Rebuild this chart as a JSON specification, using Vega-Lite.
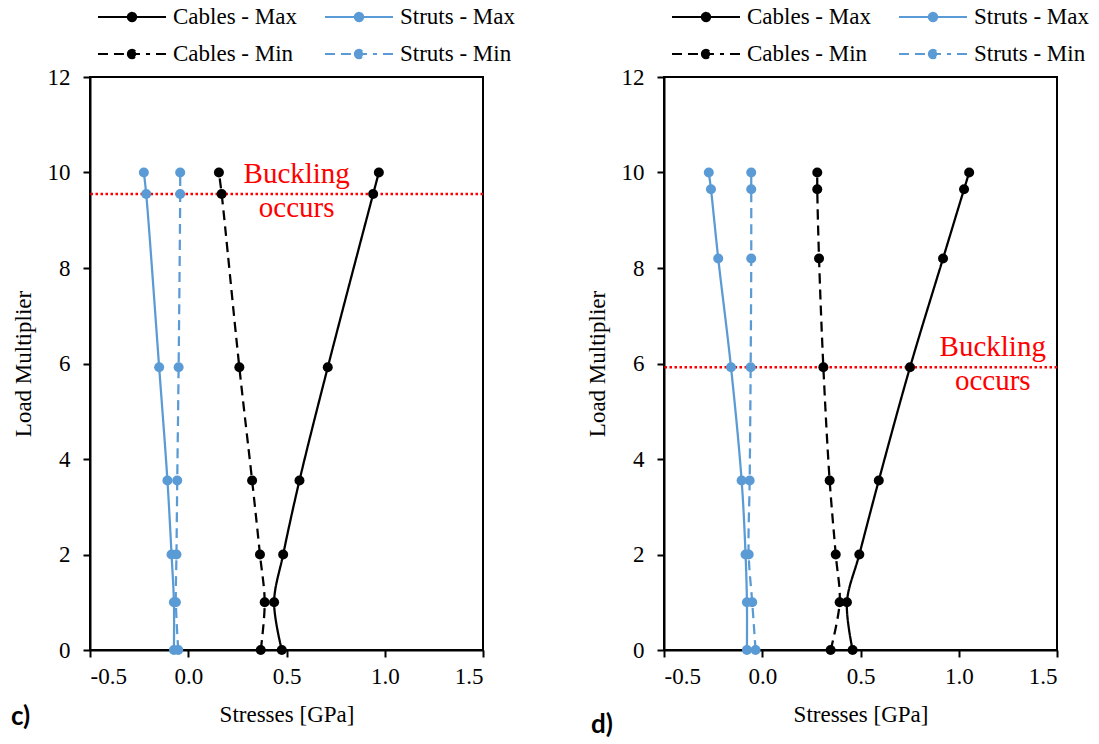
{
  "$schema": "https://vega.github.io/schema/vega-lite/v6.json",
  "padding": {"left": 10, "top": 4, "right": 0, "bottom": 0},
  "background": "white",
  "spacing": 69,
  "datasets": {
    "c": [
      {"series": "Cables - Max", "stress": 0.476, "load": 0},
      {"series": "Cables - Max", "stress": 0.437, "load": 1},
      {"series": "Cables - Max", "stress": 0.483, "load": 2},
      {"series": "Cables - Max", "stress": 0.566, "load": 3.55},
      {"series": "Cables - Max", "stress": 0.710, "load": 5.92},
      {"series": "Cables - Max", "stress": 0.941, "load": 9.55},
      {"series": "Cables - Max", "stress": 0.970, "load": 10},
      {"series": "Cables - Min", "stress": 0.369, "load": 0},
      {"series": "Cables - Min", "stress": 0.389, "load": 1},
      {"series": "Cables - Min", "stress": 0.365, "load": 2},
      {"series": "Cables - Min", "stress": 0.325, "load": 3.55},
      {"series": "Cables - Min", "stress": 0.260, "load": 5.92},
      {"series": "Cables - Min", "stress": 0.170, "load": 9.55},
      {"series": "Cables - Min", "stress": 0.156, "load": 10},
      {"series": "Struts - Max", "stress": -0.073, "load": 0},
      {"series": "Struts - Max", "stress": -0.073, "load": 1},
      {"series": "Struts - Max", "stress": -0.085, "load": 2},
      {"series": "Struts - Max", "stress": -0.106, "load": 3.55},
      {"series": "Struts - Max", "stress": -0.148, "load": 5.92},
      {"series": "Struts - Max", "stress": -0.214, "load": 9.55},
      {"series": "Struts - Max", "stress": -0.226, "load": 10},
      {"series": "Struts - Min", "stress": -0.051, "load": 0},
      {"series": "Struts - Min", "stress": -0.063, "load": 1},
      {"series": "Struts - Min", "stress": -0.060, "load": 2},
      {"series": "Struts - Min", "stress": -0.056, "load": 3.55},
      {"series": "Struts - Min", "stress": -0.049, "load": 5.92},
      {"series": "Struts - Min", "stress": -0.041, "load": 9.55},
      {"series": "Struts - Min", "stress": -0.041, "load": 10}
    ],
    "d": [
      {"series": "Cables - Max", "stress": 0.460, "load": 0},
      {"series": "Cables - Max", "stress": 0.431, "load": 1},
      {"series": "Cables - Max", "stress": 0.494, "load": 2},
      {"series": "Cables - Max", "stress": 0.593, "load": 3.55},
      {"series": "Cables - Max", "stress": 0.752, "load": 5.92},
      {"series": "Cables - Max", "stress": 0.920, "load": 8.2},
      {"series": "Cables - Max", "stress": 1.027, "load": 9.65},
      {"series": "Cables - Max", "stress": 1.053, "load": 10},
      {"series": "Cables - Min", "stress": 0.348, "load": 0},
      {"series": "Cables - Min", "stress": 0.394, "load": 1},
      {"series": "Cables - Min", "stress": 0.374, "load": 2},
      {"series": "Cables - Min", "stress": 0.343, "load": 3.55},
      {"series": "Cables - Min", "stress": 0.311, "load": 5.92},
      {"series": "Cables - Min", "stress": 0.289, "load": 8.2},
      {"series": "Cables - Min", "stress": 0.280, "load": 9.65},
      {"series": "Cables - Min", "stress": 0.280, "load": 10},
      {"series": "Struts - Max", "stress": -0.078, "load": 0},
      {"series": "Struts - Max", "stress": -0.078, "load": 1},
      {"series": "Struts - Max", "stress": -0.085, "load": 2},
      {"series": "Struts - Max", "stress": -0.105, "load": 3.55},
      {"series": "Struts - Max", "stress": -0.159, "load": 5.92},
      {"series": "Struts - Max", "stress": -0.224, "load": 8.2},
      {"series": "Struts - Max", "stress": -0.261, "load": 9.65},
      {"series": "Struts - Max", "stress": -0.272, "load": 10},
      {"series": "Struts - Min", "stress": -0.034, "load": 0},
      {"series": "Struts - Min", "stress": -0.051, "load": 1},
      {"series": "Struts - Min", "stress": -0.069, "load": 2},
      {"series": "Struts - Min", "stress": -0.064, "load": 3.55},
      {"series": "Struts - Min", "stress": -0.059, "load": 5.92},
      {"series": "Struts - Min", "stress": -0.056, "load": 8.2},
      {"series": "Struts - Min", "stress": -0.056, "load": 9.65},
      {"series": "Struts - Min", "stress": -0.056, "load": 10}
    ],
    "note_c": [{"buckling": 9.55, "tx": 0.552, "ty": 9.77, "label": "Buckling\noccurs"}],
    "note_d": [{"buckling": 5.92, "tx": 1.173, "ty": 6.16, "label": "Buckling\noccurs"}]
  },
  "resolve": {"scale": {"color": "independent", "strokeDash": "independent"}, "legend": {"color": "independent"}},
  "hconcat": [
    {
      "width": 393,
      "height": 573,
      "title": {"text": "c)", "orient": "bottom", "anchor": "start", "frame": "group", "font": "Lato", "fontWeight": "bold", "fontSize": 26, "color": "black", "dx": -79, "dy": -22, "offset": 0},
      "layer": [
        {
          "data": {"name": "note_c"},
          "mark": {"type": "rule", "color": "#FF0000", "strokeWidth": 2.5, "strokeDash": [2.5, 2.5]},
          "encoding": {"y": {"field": "buckling", "type": "quantitative", "scale": {"domain": [0, 12], "nice": false}}}
        },
        {
          "data": {"name": "note_c"},
          "mark": {"type": "text", "color": "#FF0000", "font": "Liberation Serif", "fontSize": 29, "align": "center", "baseline": "alphabetic", "lineBreak": "\n", "lineHeight": 34},
          "encoding": {
            "x": {"field": "tx", "type": "quantitative"},
            "y": {"field": "ty", "type": "quantitative"},
            "text": {"field": "label"}
          }
        },
        {
          "data": {"name": "c"},
          "mark": {"type": "line", "strokeWidth": 2.25, "interpolate": "catmull-rom"},
          "encoding": {
            "x": {"field": "stress", "type": "quantitative"},
            "y": {"field": "load", "type": "quantitative"},
            "order": {"field": "load"},
            "color": {
              "field": "series", "type": "nominal",
              "scale": {"domain": ["Cables - Max", "Struts - Max", "Cables - Min", "Struts - Min"], "range": ["#000000", "#5B9BD5", "#000000", "#5B9BD5"]},
              "legend": {
                "title": null, "orient": "none", "direction": "horizontal", "legendX": 8, "legendY": -72, "columns": 2,
                "columnPadding": 24, "rowPadding": 13, "symbolSize": 484, "symbolStrokeWidth": 2,
                "symbolOffset": 22, "labelOffset": 29, "labelFont": "Liberation Serif", "labelFontSize": 23,
                "labelColor": "black", "labelLimit": 0,
                "encode": {"symbols": {"update": {
                  "shape": {"signal": "indexof(datum.value, 'Min') >= 0 ? 'M-3.09,0L-2.18,0M-1.64,0L1.64,0M2.18,0L3.09,0M-0.38,0A0.38,0.38,0,1,1,0.38,0A0.38,0.38,0,1,1,-0.38,0Z' : 'M-3.09,0L3.09,0M-0.38,0A0.38,0.38,0,1,1,0.38,0A0.38,0.38,0,1,1,-0.38,0Z'"},
                  "fill": {"signal": "indexof(datum.value, 'Struts') >= 0 ? '#5B9BD5' : '#000000'"},
                  "stroke": {"signal": "indexof(datum.value, 'Struts') >= 0 ? '#5B9BD5' : '#000000'"},
                  "strokeDash": {"value": [1, 0]},
                  "opacity": {"value": 1},
                  "fillOpacity": {"value": 1},
                  "strokeOpacity": {"value": 1}
                }}}
              }
            },
            "strokeDash": {
              "field": "series", "type": "nominal",
              "scale": {"domain": ["Cables - Max", "Struts - Max", "Cables - Min", "Struts - Min"], "range": [[1, 0], [1, 0], [10, 6], [10, 6]]},
              "legend": null
            }
          }
        },
        {
          "data": {"name": "c"},
          "mark": {"type": "point", "filled": true, "size": 100, "opacity": 1},
          "encoding": {
            "x": {"field": "stress", "type": "quantitative", "scale": {"domain": [-0.5, 1.5], "nice": false},
              "axis": {"values": [-0.5, 0, 0.5, 1, 1.5], "labelExpr": "datum.value < 0 ? '-' + format(-datum.value, '.1f') : format(datum.value, '.1f')", "title": "Stresses [GPa]", "labelPadding": 8, "titlePadding": 15}},
            "y": {"field": "load", "type": "quantitative", "scale": {"domain": [0, 12], "nice": false},
              "axis": {"values": [0, 2, 4, 6, 8, 10, 12], "title": "Load Multiplier", "labelPadding": 13, "titlePadding": 12}},
            "color": {"field": "series", "type": "nominal", "legend": null,
              "scale": {"domain": ["Cables - Max", "Struts - Max", "Cables - Min", "Struts - Min"], "range": ["#000000", "#5B9BD5", "#000000", "#5B9BD5"]}}
          }
        }
      ]
    },
    {
      "width": 393,
      "height": 573,
      "title": {"text": "d)", "orient": "bottom", "anchor": "start", "frame": "group", "font": "Lato", "fontWeight": "bold", "fontSize": 26, "color": "black", "dx": -73, "dy": -14, "offset": 0},
      "layer": [
        {
          "data": {"name": "note_d"},
          "mark": {"type": "rule", "color": "#FF0000", "strokeWidth": 2.5, "strokeDash": [2.5, 2.5]},
          "encoding": {"y": {"field": "buckling", "type": "quantitative", "scale": {"domain": [0, 12], "nice": false}}}
        },
        {
          "data": {"name": "note_d"},
          "mark": {"type": "text", "color": "#FF0000", "font": "Liberation Serif", "fontSize": 29, "align": "center", "baseline": "alphabetic", "lineBreak": "\n", "lineHeight": 34},
          "encoding": {
            "x": {"field": "tx", "type": "quantitative"},
            "y": {"field": "ty", "type": "quantitative"},
            "text": {"field": "label"}
          }
        },
        {
          "data": {"name": "d"},
          "mark": {"type": "line", "strokeWidth": 2.25, "interpolate": "catmull-rom"},
          "encoding": {
            "x": {"field": "stress", "type": "quantitative"},
            "y": {"field": "load", "type": "quantitative"},
            "order": {"field": "load"},
            "color": {
              "field": "series", "type": "nominal",
              "scale": {"domain": ["Cables - Max", "Struts - Max", "Cables - Min", "Struts - Min"], "range": ["#000000", "#5B9BD5", "#000000", "#5B9BD5"]},
              "legend": {
                "title": null, "orient": "none", "direction": "horizontal", "legendX": 8, "legendY": -72, "columns": 2,
                "columnPadding": 24, "rowPadding": 13, "symbolSize": 484, "symbolStrokeWidth": 2,
                "symbolOffset": 22, "labelOffset": 29, "labelFont": "Liberation Serif", "labelFontSize": 23,
                "labelColor": "black", "labelLimit": 0,
                "encode": {"symbols": {"update": {
                  "shape": {"signal": "indexof(datum.value, 'Min') >= 0 ? 'M-3.09,0L-2.18,0M-1.64,0L1.64,0M2.18,0L3.09,0M-0.38,0A0.38,0.38,0,1,1,0.38,0A0.38,0.38,0,1,1,-0.38,0Z' : 'M-3.09,0L3.09,0M-0.38,0A0.38,0.38,0,1,1,0.38,0A0.38,0.38,0,1,1,-0.38,0Z'"},
                  "fill": {"signal": "indexof(datum.value, 'Struts') >= 0 ? '#5B9BD5' : '#000000'"},
                  "stroke": {"signal": "indexof(datum.value, 'Struts') >= 0 ? '#5B9BD5' : '#000000'"},
                  "strokeDash": {"value": [1, 0]},
                  "opacity": {"value": 1},
                  "fillOpacity": {"value": 1},
                  "strokeOpacity": {"value": 1}
                }}}
              }
            },
            "strokeDash": {
              "field": "series", "type": "nominal",
              "scale": {"domain": ["Cables - Max", "Struts - Max", "Cables - Min", "Struts - Min"], "range": [[1, 0], [1, 0], [10, 6], [10, 6]]},
              "legend": null
            }
          }
        },
        {
          "data": {"name": "d"},
          "mark": {"type": "point", "filled": true, "size": 100, "opacity": 1},
          "encoding": {
            "x": {"field": "stress", "type": "quantitative", "scale": {"domain": [-0.5, 1.5], "nice": false},
              "axis": {"values": [-0.5, 0, 0.5, 1, 1.5], "labelExpr": "datum.value < 0 ? '-' + format(-datum.value, '.1f') : format(datum.value, '.1f')", "title": "Stresses [GPa]", "labelPadding": 8, "titlePadding": 15}},
            "y": {"field": "load", "type": "quantitative", "scale": {"domain": [0, 12], "nice": false},
              "axis": {"values": [0, 2, 4, 6, 8, 10, 12], "title": "Load Multiplier", "labelPadding": 13, "titlePadding": 12}},
            "color": {"field": "series", "type": "nominal", "legend": null,
              "scale": {"domain": ["Cables - Max", "Struts - Max", "Cables - Min", "Struts - Min"], "range": ["#000000", "#5B9BD5", "#000000", "#5B9BD5"]}}
          }
        }
      ]
    }
  ],
  "config": {
    "view": {"stroke": "black", "strokeWidth": 2},
    "axis": {
      "domainColor": "black", "domainWidth": 2, "tickColor": "black", "tickWidth": 2, "tickSize": 7,
      "labelFont": "Liberation Serif", "labelFontSize": 23, "labelColor": "black",
      "titleFont": "Liberation Serif", "titleFontSize": 23, "titleFontWeight": "normal", "titleColor": "black",
      "grid": false
    }
  }
}
